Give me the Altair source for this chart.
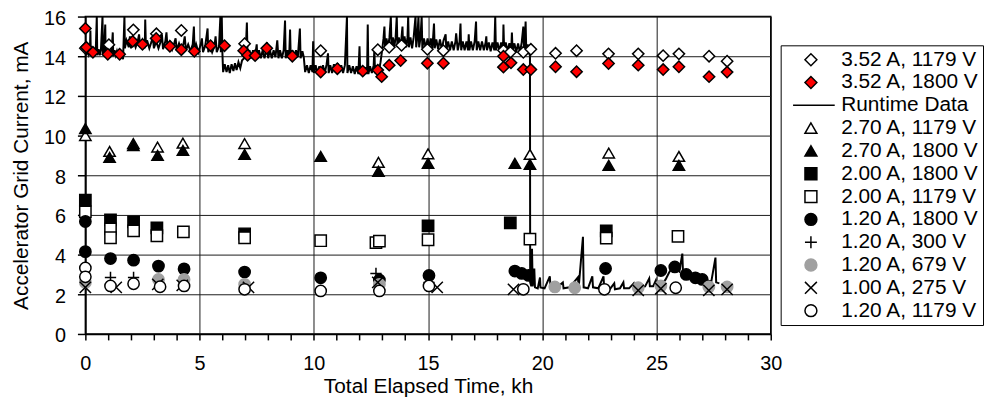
import altair as alt
import pandas as pd

# ---------------- data ----------------
series_names = ["3.52 A, 1179 V", "3.52 A, 1800 V", "Runtime Data", "2.70 A, 1179 V",
                "2.70 A, 1800 V", "2.00 A, 1800 V", "2.00 A, 1179 V", "1.20 A, 1800 V",
                "1.20 A, 300 V", "1.20 A, 679 V", "1.00 A, 275 V", "1.20 A, 1179 V"]

d352_1179_x = [0, 1.03, 2.1, 3.11, 4.2, 6.97, 10.3, 12.8, 13.3, 13.84, 14.97, 15.67, 18.3, 18.6,
               19.17, 19.5, 20.58, 21.5, 22.9, 24.2, 25.29, 25.98, 27.3, 28.09]
d352_1179_y = [14.4, 14.58, 15.33, 15.13, 15.3, 14.63, 14.28, 14.33, 14.45, 14.55, 14.35, 14.28, 14.3, 14.2,
               14.2, 14.35, 14.15, 14.28, 14.12, 14.12, 14.03, 14.12, 14.0, 13.75]

d352_1800_x = [0, 0.04, 0.33, 0.98, 1.5, 2.07, 2.5, 3.1, 3.7, 4.2, 4.77, 5.48, 6.09, 6.93, 7.1, 7.43, 7.94,
               9.06, 10.3, 11.03, 12.14, 12.8, 12.97, 13.3, 13.8, 14.97, 15.67, 18.3, 18.3, 18.63, 19.17,
               19.5, 20.58, 21.5, 22.9, 24.2, 25.29, 25.98, 27.3, 28.09]
d352_1800_y = [15.4, 14.45, 14.2, 14.1, 14.1, 14.75, 14.6, 14.9, 14.5, 14.33, 14.25, 14.53, 14.53, 14.28, 14.05, 14.03, 14.4,
               14.0, 13.2, 13.37, 13.25, 13.3, 12.97, 13.55, 13.78, 13.65, 13.65, 14.0, 13.45, 13.67, 13.33,
               13.33, 13.47, 13.22, 13.63, 13.55, 13.33, 13.47, 12.97, 13.2]

d270_1179_x = [0, 1.06, 2.1, 3.16, 4.27, 6.97, 12.83, 15.0, 19.46, 22.91, 25.98]
d270_1179_y = [10.0, 9.2, 9.6, 9.42, 9.62, 9.6, 8.65, 9.08, 9.05, 9.12, 8.95]

d270_1800_x = [0, 1.06, 2.1, 3.16, 4.27, 6.97, 10.3, 12.83, 15.0, 18.8, 19.46, 22.91, 25.98]
d270_1800_y = [10.35, 8.9, 9.5, 9.0, 9.25, 9.05, 8.95, 8.2, 8.6, 8.6, 8.55, 8.5, 8.5]

d200_1800_x = [0, 1.1, 2.11, 3.13, 6.97, 15.0, 18.6, 22.8]
d200_1800_y = [6.75, 5.75, 5.65, 5.35, 5.05, 5.45, 5.6, 5.2]

d200_1179_x = [0, 1.1, 1.1, 2.11, 3.13, 4.29, 6.97, 10.3, 12.72, 12.87, 15.0, 19.46, 22.8, 25.94]
d200_1179_y = [6.15, 5.3, 4.85, 5.2, 4.95, 5.15, 4.85, 4.7, 4.6, 4.68, 4.75, 4.78, 4.83, 4.92]

d120_1800_x = [0, 0, 1.1, 2.11, 3.2, 4.32, 6.97, 10.3, 12.87, 15.04, 18.8, 19.1, 19.4, 22.77, 25.19,
               25.8, 26.3, 26.7, 27.0]
d120_1800_y = [5.67, 4.15, 3.8, 3.72, 3.42, 3.28, 3.12, 2.83, 2.72, 2.95, 3.17, 3.05, 2.95, 3.3, 3.2,
               3.38, 3.0, 2.83, 2.75]

d120_300_x = [0, 1.1, 2.11, 3.2, 12.72, 15.04]
d120_300_y = [2.7, 2.85, 2.85, 2.7, 3.05, 2.6]

d120_679_x = [0, 3.2, 4.32, 6.97, 12.87, 20.55, 21.42, 24.2, 25.19, 27.29, 28.09]
d120_679_y = [2.6, 2.75, 2.75, 2.5, 2.5, 2.37, 2.33, 2.33, 2.42, 2.37, 2.37]

d100_275_x = [0, 1.35, 3.17, 4.24, 7.14, 12.8, 15.4, 18.74, 24.2, 25.19, 27.29, 28.09]
d100_275_y = [2.35, 2.35, 2.5, 2.45, 2.35, 2.6, 2.35, 2.25, 2.2, 2.28, 2.2, 2.25]

d120_1179_x = [0, 0, 1.1, 2.11, 3.27, 4.32, 6.97, 10.3, 12.87, 15.04, 19.17, 22.72, 25.84]
d120_1179_y = [3.33, 2.88, 2.42, 2.53, 2.38, 2.42, 2.25, 2.17, 2.17, 2.42, 2.25, 2.25, 2.33]

# Runtime data, read segment by segment
rtA_x = [0.00, 0.05, 0.10, 0.15, 0.20, 0.22, 0.24, 0.30, 0.35, 0.40,
         0.45, 0.50, 0.52, 0.58, 0.63, 0.68, 0.75, 0.77, 0.82, 0.87,
         0.89, 0.95, 1.00, 1.05, 1.10, 1.15, 1.20, 1.22, 1.28, 1.33,
         1.38, 1.44, 1.50, 1.55, 1.60, 1.65, 1.71, 1.73]
rtA_y = [14.3, 14.05, 14.35, 14.1, 14.3, 15.3, 14.05, 14.3, 14.05, 14.35,
         14.1, 16.0, 14.05, 14.35, 14.05, 14.3, 16.0, 14.05, 14.35, 15.6,
         14.05, 14.3, 14.05, 14.35, 14.1, 14.3, 15.2, 14.0, 14.3, 14.05,
         14.25, 13.95, 14.2, 13.9, 14.1, 13.85, 16.0, 14.4]
rtB_x = [1.80, 1.90, 1.95, 2.00, 2.10, 2.20, 2.30, 2.35, 2.40, 2.50,
         2.60, 2.62, 2.65, 2.70, 2.80, 2.90, 2.95, 3.00, 3.10, 3.20,
         3.30, 3.35, 3.40, 3.50, 3.55, 3.60, 3.70, 3.80, 3.90, 3.95,
         4.00, 4.10, 4.20, 4.30, 4.35, 4.40, 4.50, 4.60, 4.70, 4.75,
         4.78, 4.85, 4.95, 5.05, 5.10, 5.15, 5.25, 5.35, 5.38, 5.45,
         5.55, 5.65, 5.70, 5.75, 5.85, 5.91, 5.93, 5.97, 6.00]
rtB_y = [14.8, 14.45, 15.0, 14.4, 14.8, 14.45, 14.8, 15.1, 14.45, 14.8,
         14.4, 15.85, 14.5, 14.8, 14.4, 14.75, 15.0, 14.4, 14.75, 14.4,
         14.75, 15.1, 14.35, 14.75, 15.2, 14.35, 14.7, 14.35, 14.7, 14.9,
         14.3, 14.65, 14.3, 14.65, 15.0, 14.3, 14.6, 14.25, 14.6, 15.5,
         14.25, 14.6, 14.2, 14.6, 14.9, 14.2, 14.55, 15.4, 14.2, 14.55,
         14.2, 14.5, 15.0, 14.2, 14.5, 16.0, 14.2, 16.0, 14.1]
rtC_x = [6.03, 6.10, 6.18, 6.25, 6.32, 6.40, 6.48, 6.55, 6.62, 6.70, 6.78, 6.86]
rtC_y = [13.2, 13.6, 13.2, 13.55, 13.15, 13.6, 13.25, 13.65, 13.3, 13.7, 13.4, 13.8]
rtD_x = [6.95, 7.02, 7.07, 7.10, 7.18, 7.26, 7.34, 7.42, 7.50, 7.53, 7.60, 7.68,
         7.76, 7.84, 7.92, 7.95, 8.00, 8.08, 8.16, 8.24, 8.32, 8.40,
         8.45, 8.52, 8.60, 8.68, 8.74, 8.77, 8.84, 8.92, 8.96, 8.99,
         9.06, 9.14, 9.22, 9.30, 9.39, 9.42, 9.50, 9.56]
rtD_y = [13.9, 14.3, 15.7, 13.95, 14.3, 13.9, 14.3, 13.95, 14.6, 13.9, 14.3, 13.9,
         14.3, 13.9, 14.3, 14.7, 13.9, 14.3, 13.9, 14.3, 13.95, 14.8,
         13.9, 14.3, 13.9, 14.3, 15.8, 13.9, 14.3, 13.95, 15.35, 13.9,
         14.3, 13.9, 14.3, 13.95, 15.4, 13.9, 14.25, 13.95]
rtE_x = [9.62, 9.70, 9.78, 9.86, 9.94, 9.97, 10.00, 10.08, 10.16, 10.24, 10.32, 10.40,
         10.48, 10.56, 10.62, 10.65, 10.72, 10.80, 10.88, 10.96, 11.04, 11.12,
         11.20, 11.28, 11.36, 11.45, 11.47, 11.55, 11.63, 11.71, 11.79, 11.87,
         11.95, 12.00, 12.03, 12.10, 12.18, 12.26, 12.33, 12.36, 12.39, 12.46,
         12.54, 12.62, 12.65, 12.68, 12.76, 12.84, 12.92]
rtE_y = [13.2, 13.55, 13.15, 13.55, 13.2, 14.75, 13.15, 13.55, 13.1, 13.5, 13.15, 13.55,
         13.15, 13.6, 14.15, 13.15, 13.55, 13.15, 13.6, 13.2, 13.65, 13.2,
         13.55, 13.15, 13.55, 16.0, 13.15, 13.55, 13.15, 13.5, 13.1, 13.5,
         13.1, 14.5, 13.1, 13.5, 13.05, 13.45, 13.1, 15.6, 13.1, 13.5,
         13.15, 13.55, 14.35, 13.15, 13.55, 13.2, 13.7]
rtF_x = [13.00, 13.05, 13.09, 13.12, 13.18, 13.25, 13.31, 13.37, 13.40, 13.46, 13.52, 13.58,
         13.63, 13.66, 13.72, 13.80, 13.88, 13.91, 13.97, 14.04, 14.10, 14.13,
         14.16, 14.23, 14.30, 14.37, 14.45, 14.48, 14.53, 14.58, 14.61, 14.67,
         14.72, 14.75, 14.82, 14.90, 14.98, 15.05, 15.12, 15.19, 15.26, 15.29,
         15.36, 15.44, 15.52, 15.60, 15.68, 15.77, 15.80, 15.88]
rtF_y = [14.4, 14.9, 15.5, 14.45, 14.9, 14.45, 14.95, 16.0, 14.45, 14.95, 14.45, 14.95,
         16.0, 14.45, 14.95, 14.45, 15.5, 14.45, 15.0, 14.45, 14.95, 16.0,
         14.45, 14.95, 14.4, 14.95, 16.0, 14.45, 14.95, 16.0, 14.45, 14.95,
         16.0, 14.4, 14.9, 14.4, 14.9, 14.4, 14.9, 14.4, 15.65, 14.4,
         14.85, 14.35, 14.85, 14.35, 14.8, 15.1, 14.3, 14.75]
rtG_x = [15.96, 16.04, 16.12, 16.20, 16.23, 16.30, 16.38, 16.42, 16.45, 16.52, 16.60, 16.68,
         16.75, 16.78, 16.81, 16.88, 16.96, 17.04, 17.10, 17.13, 17.20, 17.28,
         17.36, 17.44, 17.52, 17.55, 17.58, 17.66, 17.74, 17.82, 17.90, 17.94,
         17.97, 18.04, 18.12, 18.20, 18.28, 18.30, 18.33, 18.40, 18.48, 18.56,
         18.64, 18.67, 18.70, 18.78, 18.86, 18.94, 19.02, 19.10, 19.17, 19.20,
         19.24, 19.27, 19.30, 19.36, 19.42, 19.46]
rtG_y = [14.3, 14.75, 14.3, 14.75, 15.15, 14.3, 14.75, 15.65, 14.3, 14.75, 14.3, 14.75,
         14.3, 15.1, 14.3, 14.75, 14.3, 14.75, 15.75, 14.3, 14.75, 14.3,
         14.75, 14.3, 14.7, 15.0, 14.3, 14.7, 14.25, 14.7, 14.3, 16.0,
         14.3, 14.7, 14.25, 14.7, 14.3, 15.6, 14.3, 14.7, 14.25, 14.65,
         14.25, 15.2, 14.25, 14.65, 14.2, 14.65, 14.2, 14.7, 15.5, 14.3,
         14.7, 15.75, 14.2, 14.6, 14.2, 14.3]
rtH_x = [19.47, 19.52, 19.55, 19.58, 19.65, 19.68, 19.80, 19.90, 19.92, 20.10, 20.33, 20.36,
         20.60, 20.90, 20.93, 21.20, 21.56, 21.59, 21.78, 21.81, 22.00, 22.19, 22.22, 22.45, 22.68,
         22.71, 22.95, 23.15, 23.18, 23.40, 23.55, 23.58, 23.80, 24.00, 24.03, 24.30, 24.50, 24.68,
         24.71, 24.85, 24.97, 25.00, 25.20, 25.40, 25.55, 25.70, 25.85, 26.00, 26.13, 26.16, 26.35,
         26.55, 26.75, 27.00, 27.20, 27.40, 27.58, 27.61, 27.75]
rtH_y = [2.6, 2.4, 4.3, 2.4, 3.3, 2.35, 2.3, 2.85, 2.35, 2.3, 2.9, 2.35,
         2.3, 2.6, 2.3, 2.35, 2.85, 2.3, 4.9, 2.35, 2.3, 2.9, 2.35, 2.3, 2.9,
         2.3, 2.25, 2.55, 2.25, 2.3, 2.6, 2.3, 2.3, 2.55, 2.3, 2.35, 2.4, 2.8,
         2.4, 2.4, 2.7, 2.4, 2.45, 2.75, 3.1, 3.35, 3.3, 3.15, 4.05, 3.05, 2.95,
         2.85, 2.8, 2.75, 2.7, 2.65, 3.85, 2.6, 2.55]

x_ticks = list(range(0, 31))
y_ticks = [0, 2, 4, 6, 8, 10, 12, 14, 16]

shape_range = ["diamond", "diamond", "M-3,0H4", "triangle-up", "triangle-up", "square", "square",
               "circle", "M0,-1V1M-1,0H1", "circle", "M-1,-1L1,1M1,-1L-1,1", "circle"]
fill_range = ["white", "#ff0000", "transparent", "white", "black", "black", "white", "black",
              "transparent", "#a0a0a0", "transparent", "white"]
stroke_range = ["black", "black", "black", "black", "black", "black", "black", "black",
                "black", "#a0a0a0", "black", "black"]

point_sets = [
    ("3.52 A, 1179 V", d352_1179_x, d352_1179_y),
    ("3.52 A, 1800 V", d352_1800_x, d352_1800_y),
    ("2.70 A, 1179 V", d270_1179_x, d270_1179_y),
    ("2.70 A, 1800 V", d270_1800_x, d270_1800_y),
    ("2.00 A, 1800 V", d200_1800_x, d200_1800_y),
    ("2.00 A, 1179 V", d200_1179_x, d200_1179_y),
    ("1.20 A, 1800 V", d120_1800_x, d120_1800_y),
    ("1.20 A, 300 V", d120_300_x, d120_300_y),
    ("1.20 A, 679 V", d120_679_x, d120_679_y),
    ("1.00 A, 275 V", d100_275_x, d100_275_y),
    ("1.20 A, 1179 V", d120_1179_x, d120_1179_y),
]
rows = []
k = 0
for name, xs, ys in point_sets:
    for xv, yv in zip(xs, ys):
        rows.append({"t": xv, "i": yv, "series": name, "k": k})
        k += 1
pts = pd.DataFrame(rows)

rt_rows = []
o = 0
for xs, ys in [(rtA_x, rtA_y), (rtB_x, rtB_y), (rtC_x, rtC_y), (rtD_x, rtD_y), (rtE_x, rtE_y),
               (rtF_x, rtF_y), (rtG_x, rtG_y), (rtH_x, rtH_y)]:
    for xv, yv in zip(xs, ys):
        rt_rows.append({"t": xv, "i": yv, "o": o})
        o += 1
rt = pd.DataFrame(rt_rows)

FONT = "Liberation Sans"

x_enc = alt.X("t:Q", scale=alt.Scale(domain=[0, 30], nice=False),
              axis=alt.Axis(values=x_ticks, title="Total Elapsed Time, kh",
                            labelExpr="datum.value % 5 === 0 ? datum.label : ''",
                            gridOpacity={"condition": {"test": "datum.value % 5 === 0", "value": 1}, "value": 0},
                            tickSize=6, labelPadding=14, titlePadding=2, titleFontSize=21,
                            labelFlush=False, labelOverlap=False))
y_enc = alt.Y("i:Q", scale=alt.Scale(domain=[0, 16], nice=False),
              axis=alt.Axis(values=y_ticks, title="Accelerator Grid Current, mA",
                            tickSize=8, labelPadding=12, titlePadding=12, labelOffset=2,
                            titleFontSize=21))

leg = alt.Legend(orient="none", legendX=701, legendY=29, title=None,
                 labelFont=FONT, labelFontSize=21, labelColor="black", labelLimit=400,
                 symbolSize=144, symbolStrokeWidth=1.5, padding=4, symbolOffset=16,
                 labelOffset=20, rowPadding=1, strokeColor="black", fillColor="white")

line = alt.Chart(rt).mark_line(color="black", strokeWidth=2).encode(
    x=x_enc, y=y_enc, order="o:Q")

points = alt.Chart(pts).mark_point(filled=True, size=130, strokeWidth=1.5, opacity=1).encode(
    x=x_enc, y=y_enc,
    shape=alt.Shape("series:N", scale=alt.Scale(domain=series_names, range=shape_range), legend=leg),
    fill=alt.Fill("series:N", scale=alt.Scale(domain=series_names, range=fill_range), legend=leg),
    stroke=alt.Stroke("series:N", scale=alt.Scale(domain=series_names, range=stroke_range), legend=leg),
    order="k:Q",
)

chart = alt.layer(line, points).properties(
    width=691, height=320,
    autosize=alt.AutoSizeParams(type="none"),
    padding={"left": 78, "top": 7, "right": 215, "bottom": 71},
).configure_view(stroke="black", strokeWidth=1.5).configure_axis(
    labelFont=FONT, labelFontSize=20, labelColor="black",
    titleFont=FONT, titleFontWeight="normal", titleColor="black",
    domainColor="black", domainWidth=1.5, tickColor="black", tickWidth=1.5,
    gridColor="#1a1a1a", gridWidth=1,
)

chart.save("out.html", embed_options={"renderer": "svg", "actions": False})
